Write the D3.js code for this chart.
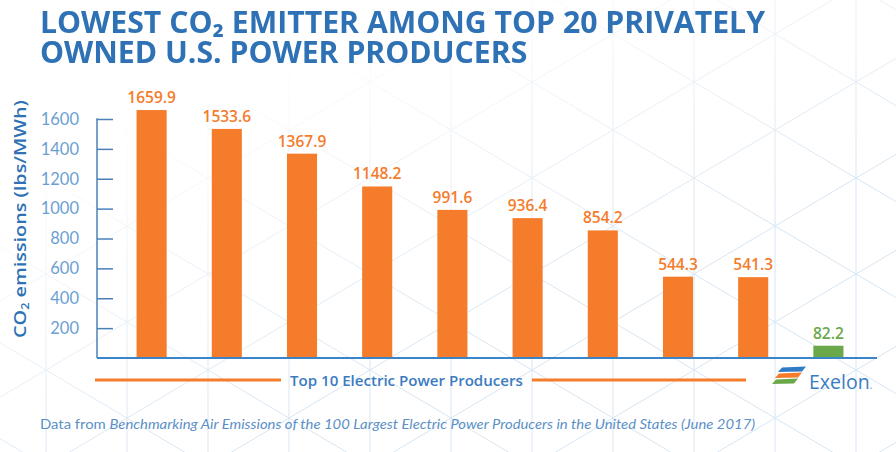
<!DOCTYPE html>
<html>
<head>
<meta charset="utf-8">
<script src="https://cdn.jsdelivr.net/npm/d3@7"></script>
<style>
  html, body { margin: 0; padding: 0; background: #ffffff; }
  #wrap { position: relative; width: 896px; height: 452px; overflow: hidden; }
  svg { display: block; position: absolute; left: 0; top: 0; }
  .title {
    position: absolute; left: 40px; top: 6px; margin: 0;
    white-space: pre; display: inline-block;
    font-family: 'Open Sans', 'DejaVu Sans', sans-serif; font-weight: 700;
    font-size: 31px; line-height: 30px; color: #2e72b5;
    transform-origin: 0 0;
  }
</style>
</head>
<body>
<div id="wrap"><svg id="chart" width="896" height="452"></svg></div>
<script>
// CO2 emission rates of the ten largest privately owned U.S. power producers
const producers = ["Producer 1", "Producer 2", "Producer 3", "Producer 4", "Producer 5",
                   "Producer 6", "Producer 7", "Producer 8", "Producer 9", "Exelon"];
const emissions = [1659.9, 1533.6, 1367.9, 1148.2, 991.6, 936.4, 854.2, 544.3, 541.3, 82.2];
const highlighted = [false, false, false, false, false, false, false, false, false, true];
const yTicks = [200, 400, 600, 800, 1000, 1200, 1400, 1600];

const titleLines = ["LOWEST CO\u2082 EMITTER AMONG TOP 20 PRIVATELY", "OWNED U.S. POWER PRODUCERS"];
const groupLabel = "Top 10 Electric Power Producers";
const brandName = "Exelon";
const sourceParts = [
  {t: "Data from ", italic: false},
  {t: "Benchmarking Air Emissions of the 100 Largest Electric Power Producers in the United States (June 2017)", italic: true}
];

const W = 896, H = 452;
const ORANGE = "#f47c2b", GREEN = "#6aa84a", BLUE = "#2e72b5", AXIS = "#4a80b8", LIGHTBLUE = "#6b9fd3";

const svg = d3.select("#chart");
const defs = svg.append("defs");

// --- faint isometric lattice in the background, fading out toward the upper left
const grad = defs.append("linearGradient").attr("id", "fade")
  .attr("x1", 0.3).attr("y1", 0.1).attr("x2", 0.7).attr("y2", 0.6);
grad.append("stop").attr("offset", 0).attr("stop-color", "#fff").attr("stop-opacity", 0);
grad.append("stop").attr("offset", 1).attr("stop-color", "#fff").attr("stop-opacity", 1);
defs.append("mask").attr("id", "fadeMask")
  .append("rect").attr("width", W).attr("height", H).attr("fill", "url(#fade)");

const lattice = svg.append("g").attr("mask", "url(#fadeMask)")
  .attr("stroke", "#d8e5f2").attr("stroke-width", 1).attr("fill", "none");
const cell = 81, x0 = 532, y0 = 82, slope = 48 / 81, period = 96;
for (let k = -8; k <= 6; k++) {
  lattice.append("line").attr("x1", x0 + k * cell).attr("x2", x0 + k * cell)
    .attr("y1", 0).attr("y2", H);
}
for (let j = -14; j <= 14; j++) {
  const b = y0 + j * period;
  lattice.append("line").attr("x1", 0).attr("y1", b - slope * x0)
    .attr("x2", W).attr("y2", b + slope * (W - x0));
  lattice.append("line").attr("x1", 0).attr("y1", b + slope * x0)
    .attr("x2", W).attr("y2", b - slope * (W - x0));
}

// stretch a positioned group horizontally so its content spans the given width
function fitWidth(g, width) {
  const w = g.node().getBBox().width;
  g.attr("transform", g.attr("data-t") + ` scale(${width / w},1)`);
}

// --- two-line title as a single block of text
const titleDiv = d3.select("#wrap").append("div").attr("class", "title")
  .text(titleLines.join("\n"));
const natural = titleDiv.node().getBoundingClientRect().width;
titleDiv.style("transform", `scaleX(${725 / natural})`);

// --- scales
const x = d3.scaleBand().domain(producers).range([114, 866]).paddingInner(0.6).paddingOuter(0.3);
const y = d3.scaleLinear().domain([0, 1600]).range([358, 119]);
const axisX = 97;

// --- y axis
const yAxis = svg.append("g").attr("transform", `translate(${axisX},0)`)
  .call(d3.axisLeft(y).tickValues(yTicks).tickSize(-16).tickPadding(18).tickFormat(d3.format("d")));
yAxis.select(".domain").remove();
yAxis.selectAll(".tick line").attr("stroke", AXIS).attr("stroke-width", 1.5);
yAxis.selectAll(".tick text").attr("fill", LIGHTBLUE)
  .attr("font-family", "Lato, 'Open Sans', sans-serif").attr("font-size", 16.5).attr("font-weight", 400);
svg.append("line").attr("x1", axisX).attr("x2", axisX)
  .attr("y1", y(1605)).attr("y2", y(0)).attr("stroke", AXIS).attr("stroke-width", 1.5);

// y axis title, stretched along its run
const yTitleG = svg.append("g").attr("data-t", "translate(26,338) rotate(-90)")
  .attr("transform", "translate(26,338) rotate(-90)");
const yTitle = yTitleG.append("text")
  .attr("font-family", "'Open Sans', sans-serif").attr("font-weight", 600)
  .attr("font-size", 16.5).attr("fill", BLUE);
yTitle.append("tspan").text("CO");
yTitle.append("tspan").text("2").attr("font-size", 10.5).attr("dy", 3);
yTitle.append("tspan").text(" emissions (lbs/MWh)").attr("dy", -3);
fitWidth(yTitleG, 238);

// --- bars
const bars = producers.map((p, i) => ({name: p, value: emissions[i], hl: highlighted[i]}));
svg.append("g").selectAll("rect").data(bars).join("rect")
  .attr("x", d => x(d.name)).attr("width", x.bandwidth())
  .attr("y", d => y(d.value)).attr("height", d => y(0) - y(d.value))
  .attr("fill", d => d.hl ? GREEN : ORANGE);

// value labels
svg.append("g").selectAll("text").data(bars).join("text")
  .attr("x", d => x(d.name) + x.bandwidth() / 2)
  .attr("y", d => y(d.value) - 7)
  .attr("text-anchor", "middle")
  .attr("font-family", "'Open Sans', sans-serif").attr("font-weight", 600)
  .attr("font-size", 15.5)
  .attr("fill", d => d.hl ? GREEN : ORANGE)
  .text(d => d3.format(".1f")(d.value));

// x baseline
svg.append("line").attr("x1", axisX).attr("x2", 877)
  .attr("y1", y(0)).attr("y2", y(0)).attr("stroke", "#3a84c9").attr("stroke-width", 2);

// --- group bracket under the first nine bars
svg.append("line").attr("x1", 95).attr("x2", 281).attr("y1", 380).attr("y2", 380)
  .attr("stroke", ORANGE).attr("stroke-width", 3);
svg.append("line").attr("x1", 532).attr("x2", 746).attr("y1", 380).attr("y2", 380)
  .attr("stroke", ORANGE).attr("stroke-width", 3);
const gl = svg.append("g").attr("data-t", "translate(290,386)").attr("transform", "translate(290,386)");
gl.append("text").attr("font-family", "'Open Sans', sans-serif").attr("font-weight", 600)
  .attr("font-size", 15).attr("fill", "#3b7bbf").text(groupLabel);
fitWidth(gl, 233);

// --- brand mark beneath the highlighted bar
const logo = svg.append("g").attr("transform", "translate(772,366)");
const stripe = (dx, dy, w, color) => logo.append("path")
  .attr("d", `M${dx + 4},${dy} L${dx + w + 4},${dy - 1} L${dx + w},${dy + 4} L${dx},${dy + 4.5} Z`)
  .attr("fill", color);
stripe(6, 1.5, 24, "#2f7bc4");
stripe(3, 7.5, 23, ORANGE);
stripe(0, 13.5, 22, GREEN);
const brand = svg.append("text").attr("x", 809).attr("y", 389)
  .attr("font-family", "'Open Sans', sans-serif").attr("font-weight", 500)
  .attr("font-size", 19.5).attr("fill", "#3a7cc2");
brand.append("tspan").text(brandName);
brand.append("tspan").text(".").attr("fill", "#9aa7b3").attr("font-size", 12);

// --- source note
const src = svg.append("g").attr("data-t", "translate(40,429)").attr("transform", "translate(40,429)");
const srcText = src.append("text").attr("font-family", "Lato, 'Open Sans', sans-serif")
  .attr("font-size", 13.5).attr("fill", "#5b8fc6");
sourceParts.forEach(p => srcText.append("tspan").text(p.t).attr("font-style", p.italic ? "italic" : "normal"));
fitWidth(src, 716);
</script>
</body>
</html>
